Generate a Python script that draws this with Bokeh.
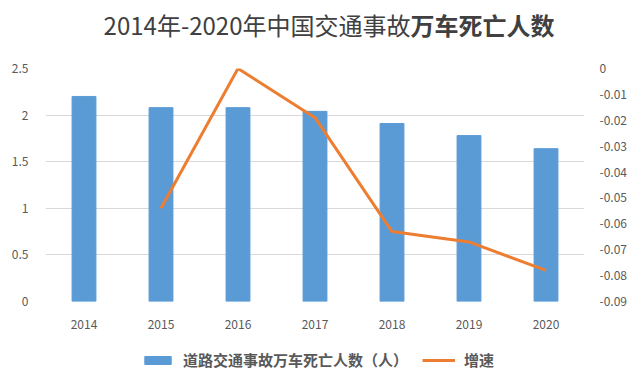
from bokeh.plotting import figure
from bokeh.layouts import column
from bokeh.models import Range1d, LinearAxis, FixedTicker, Legend, LegendItem, Label
from bokeh.embed import file_html
from bokeh.resources import INLINE

years = ["2014", "2015", "2016", "2017", "2018", "2019", "2020"]
deaths = [2.20, 2.08, 2.08, 2.04, 1.91, 1.78, 1.64]
growth_years = ["2015", "2016", "2017", "2018", "2019", "2020"]
growth = [-0.054, 0.0, -0.019, -0.063, -0.067, -0.078]
left_ticks = [0, 0.5, 1, 1.5, 2, 2.5]
left_labels = ["0", "0.5", "1", "1.5", "2", "2.5"]
right_ticks = [0, -0.01, -0.02, -0.03, -0.04, -0.05, -0.06, -0.07, -0.08, -0.09]
right_labels = ["0", "-0.01", "-0.02", "-0.03", "-0.04", "-0.05", "-0.06", "-0.07", "-0.08", "-0.09"]
bar_name = "道路交通事故万车死亡人数（人）"
line_name = "增速"
title_normal = "2014年-2020年中国交通事故"
title_bold = "万车死亡人数"

FONT = "Noto Sans CJK SC"
LABEL_COLOR = "#595959"
BAR_COLOR = "#5B9BD5"
LINE_COLOR = "#ED7D31"
W = 632
TITLE_H = 58
MAIN_H = 273
LEG_H = 50
STRIP_DX = -40   # observed offset of the strips' frames inside the column


def blank(h):
    f = figure(width=W, height=h, x_range=Range1d(0, 1), y_range=Range1d(0, 1),
               x_axis_type=None, y_axis_type=None,
               output_backend="svg", toolbar_location=None,
               min_border_left=0, min_border_right=0, min_border_top=0, min_border_bottom=0)
    f.grid.visible = False
    f.outline_line_color = None
    return f


# ---- title strip ----
tf = blank(TITLE_H)
t1 = Label(x=405 + STRIP_DX, y=TITLE_H - 24, x_units="screen", y_units="screen", text=title_normal,
           text_align="right", text_baseline="middle", text_font=FONT,
           text_font_size="24px", text_color="#404040")
t2 = Label(x=405 + STRIP_DX, y=TITLE_H - 24, x_units="screen", y_units="screen", text=title_bold,
           text_align="left", text_baseline="middle", text_font=FONT,
           text_font_size="24px", text_font_style="bold", text_color="#404040")
tf.add_layout(t1)
tf.add_layout(t2)

# ---- main chart ----
p = figure(width=W, height=MAIN_H, x_range=years, y_range=Range1d(0, 2.5),
           output_backend="svg", toolbar_location=None,
           min_border_left=45, min_border_right=W - 584, min_border_top=10, min_border_bottom=30)
p.outline_line_color = None
p.extra_y_ranges = {"r": Range1d(-0.09, 0)}

bars = p.vbar(x=years, top=deaths, width=0.31, color=BAR_COLOR)
line = p.line(x=growth_years, y=growth, y_range_name="r", line_color=LINE_COLOR, line_width=3)

ya = p.yaxis[0]
ya.ticker = FixedTicker(ticks=left_ticks)
ya.major_label_overrides = dict(zip(left_ticks, left_labels))
ya.axis_line_color = None
ya.major_tick_line_color = None
ya.minor_tick_line_color = None
ya.major_label_standoff = 11
ya.major_label_text_font = FONT
ya.major_label_text_font_size = "12px"
ya.major_label_text_color = LABEL_COLOR

ra = LinearAxis(y_range_name="r", ticker=FixedTicker(ticks=right_ticks))
ra.major_label_overrides = dict(zip(right_ticks, right_labels))
ra.axis_line_color = None
ra.major_tick_line_color = None
ra.minor_tick_line_color = None
ra.major_label_standoff = 9
ra.major_label_text_font = FONT
ra.major_label_text_font_size = "12px"
ra.major_label_text_color = LABEL_COLOR
p.add_layout(ra, "right")

xa = p.xaxis[0]
xa.axis_line_color = None
xa.major_tick_line_color = None
xa.major_label_standoff = 12
xa.major_label_text_font = FONT
xa.major_label_text_font_size = "12px"
xa.major_label_text_color = LABEL_COLOR

p.xgrid.grid_line_color = None
p.ygrid.grid_line_color = "#d9d9d9"
p.ygrid.ticker = FixedTicker(ticks=left_ticks)
p.x_range.range_padding = 0

# ---- legend strip (hidden stand-in renderers supply the legend swatches) ----
lf = blank(LEG_H)
lb = lf.vbar(x=[0], top=[0], width=0.3, color=BAR_COLOR, visible=False)
ll = lf.line(x=[0, 0], y=[0, 0], line_color=LINE_COLOR, line_width=3, visible=False)
legend = Legend(items=[LegendItem(label=bar_name, renderers=[lb]),
                       LegendItem(label=line_name, renderers=[ll])],
                orientation="horizontal", location=(136 + STRIP_DX, 11),
                label_text_font=FONT, label_text_font_size="15px", label_text_font_style="bold",
                label_text_color=LABEL_COLOR, glyph_width=33, glyph_height=10,
                label_standoff=9, spacing=14, border_line_color=None,
                background_fill_alpha=0, margin=0, padding=4,
                inactive_fill_alpha=0)
lf.add_layout(legend)

layout = column(tf, p, lf, spacing=0)
open("out.html", "w").write(file_html(layout, INLINE))
